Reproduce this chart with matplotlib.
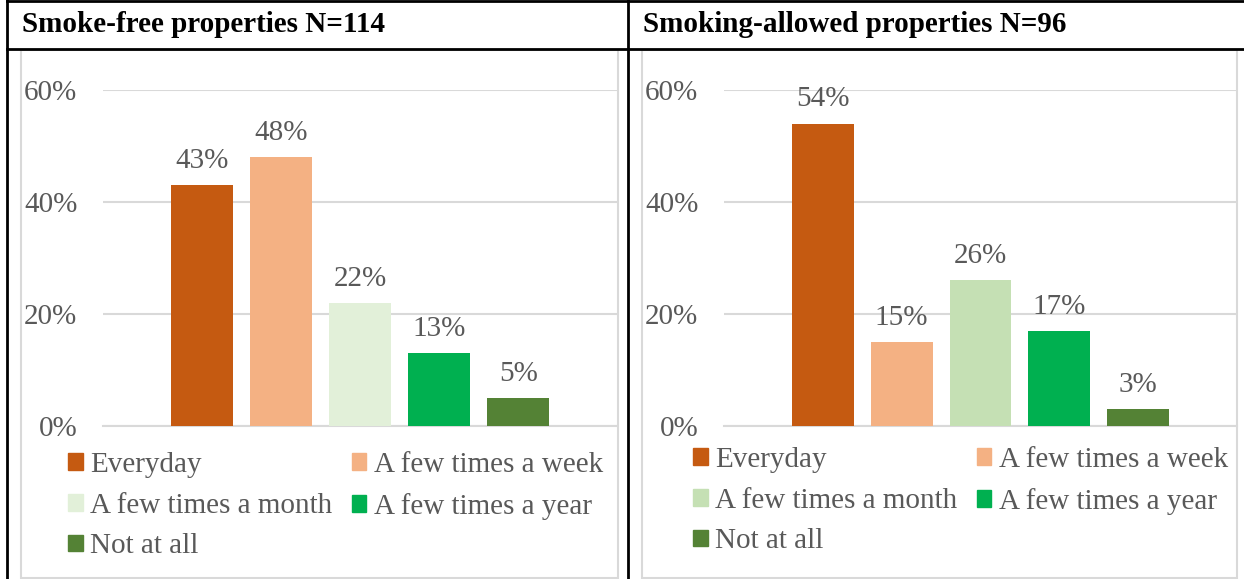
import matplotlib
matplotlib.use("Agg")
import matplotlib.pyplot as plt
from matplotlib.patches import Patch, Rectangle
from matplotlib.lines import Line2D
import numpy as np

plt.rcParams['font.family'] = ['Liberation Serif', 'DejaVu Serif']

# data
categories = ["Everyday", "A few times a week", "A few times a month",
              "A few times a year", "Not at all"]
free_vals = [43, 48, 22, 13, 5]
allowed_vals = [54, 15, 26, 17, 3]
titles = ["Smoke-free properties N=114", "Smoking-allowed properties N=96"]

free_colors = ["#C55A11", "#F4B183", "#E2F0D9", "#00B050", "#548235"]
allowed_colors = ["#C55A11", "#F4B183", "#C5E0B4", "#00B050", "#548235"]

W, H = 1244, 579
fig = plt.figure(figsize=(W / 100, H / 100), dpi=100)
txt = "#595959"
grid_c = "#D9D9D9"
fs = 21
leg_fs = 21


def fx(px):
    return px / W


def fy(py):
    return 1 - py / H


def draw_panel(vals, colors, ax_left, ax_right, leg_x, leg_y):
    ax = fig.add_axes([fx(ax_left), fy(426), fx(ax_right - ax_left), (426 - 90) / H])
    x = np.arange(len(vals))
    bars = ax.bar(x, vals, width=0.785, color=colors, zorder=3)
    ax.bar_label(bars, labels=[f"{v}%" for v in vals], padding=8,
                 fontsize=fs, color=txt)
    ax.set_ylim(0, 60)
    ax.set_xlim(-1.25, 5.25)
    ax.set_yticks([0, 20, 40, 60])
    ax.set_yticklabels(["0%", "20%", "40%", "60%"])
    ax.tick_params(axis='y', length=0, pad=18.5, labelsize=fs, labelcolor=txt)
    ax.set_xticks([])
    ax.yaxis.grid(True, color=grid_c, lw=1.5, zorder=0)
    for s in ["top", "left", "right"]:
        ax.spines[s].set_visible(False)
    ax.spines["bottom"].set_color(grid_c)
    ax.spines["bottom"].set_linewidth(1.5)
    handles = [Patch(color=c, label=l) for c, l in zip(colors, categories)]
    order = [0, 2, 4, 1, 3]
    fig.legend([handles[i] for i in order], [categories[i] for i in order],
               loc="upper left", bbox_to_anchor=(fx(leg_x), fy(leg_y)),
               ncol=2, frameon=False, fontsize=leg_fs, labelcolor=txt,
               borderpad=0, borderaxespad=0, handlelength=0.5,
               handleheight=0.5, handletextpad=0.27, columnspacing=0.65,
               labelspacing=0.5)
    return ax


draw_panel(free_vals, free_colors, 103, 617, 68, 452)
draw_panel(allowed_vals, allowed_colors, 724, 1237, 693, 447)

# chart boxes
for l, r in [(21, 618), (642, 1237)]:
    fig.add_artist(Rectangle((fx(l), fy(578)), fx(r - l), (578 - 50) / H,
                             transform=fig.transFigure, fill=False,
                             edgecolor=grid_c, lw=1.5))

# table lines
lk = dict(color="black", lw=2, transform=fig.transFigure)
fig.add_artist(Line2D([fx(7), 1], [fy(1), fy(1)], **lk))
fig.add_artist(Line2D([fx(7), 1], [fy(49), fy(49)], **lk))
fig.add_artist(Line2D([fx(7.5), fx(7.5)], [0, fy(0)], **lk))
fig.add_artist(Line2D([fx(628), fx(628)], [0, fy(0)], **lk))

# headers
fig.text(fx(22), fy(25), titles[0], fontsize=21, fontweight="bold",
         va="center", ha="left")
fig.text(fx(643), fy(25), titles[1], fontsize=21, fontweight="bold",
         va="center", ha="left")

fig.savefig("out.png", dpi=100)
